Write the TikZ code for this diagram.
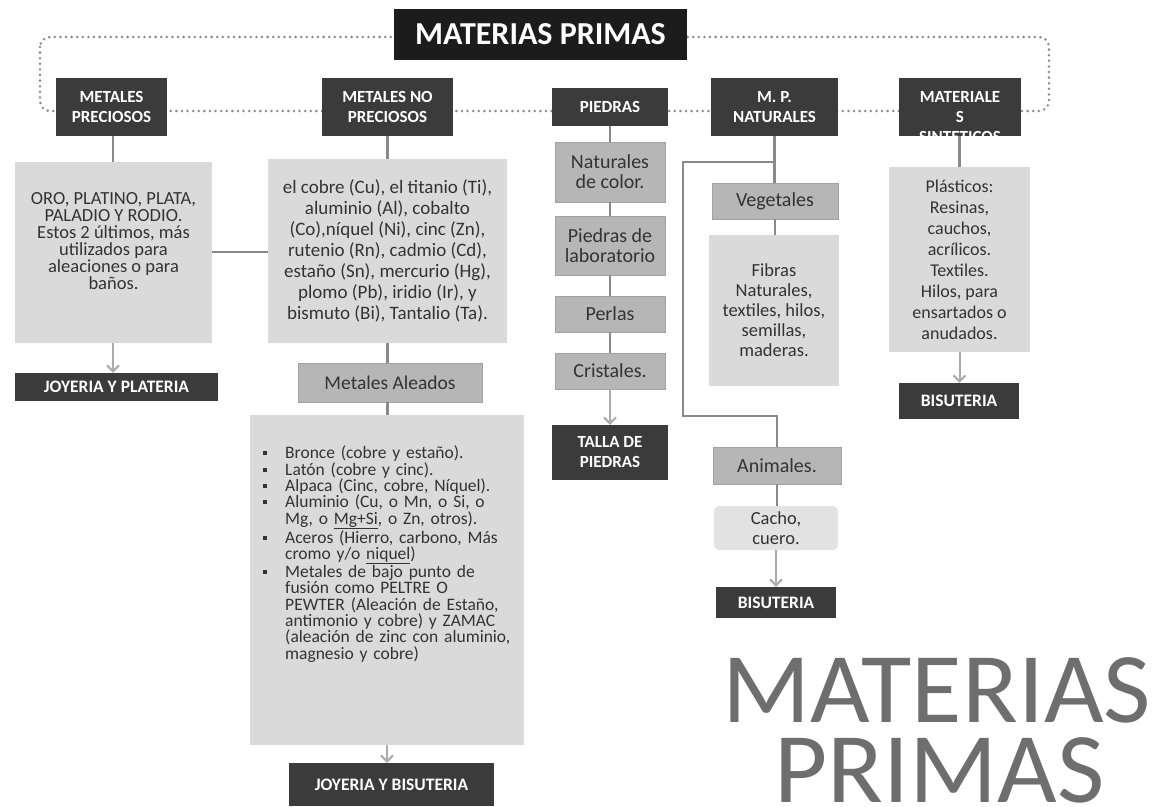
\documentclass[tikz,border=0pt]{standalone}
\usepackage{fontspec}
\setmainfont{Carlito}
\usetikzlibrary{arrows.meta}
\definecolor{dk}{HTML}{3B3B3B}
\definecolor{blk}{HTML}{1C1C1C}
\definecolor{lt}{HTML}{DADADA}
\definecolor{lt2}{HTML}{E2E2E2}
\definecolor{md}{HTML}{B6B6B6}
\definecolor{mdb}{HTML}{A2A2A2}
\definecolor{ln}{HTML}{8A8A8A}
\definecolor{ar}{HTML}{ABABAB}
\definecolor{tx}{HTML}{333333}
\definecolor{bigc}{HTML}{6E6E6E}
\newcommand\alitem{\par\noindent\hangindent=33pt\hangafter=1\makebox[33pt][l]{\hspace{11pt}\rule[3.5pt]{4pt}{4pt}}}
\tikzset{
 darkbox/.style={fill=dk, text=white, font=\bfseries\fontsize{17}{20}\selectfont, align=center, inner sep=0pt},
 endbox/.style={darkbox, font=\bfseries\fontsize{17.5}{20}\selectfont},
 ltbox/.style={fill=lt, text=tx, align=center, inner sep=0pt},
 mdbox/.style={fill=md, draw=mdb, line width=0.6pt, text=tx, align=center, inner sep=0pt, font=\fontsize{20}{20}\selectfont},
 conn/.style={draw=ln, line width=2.5pt},
 arr/.style={draw=ar, line width=2pt, -{Straight Barb[length=6pt,width=12pt,line width=2pt]}},
 dotframe/.style={draw=ln, line width=2.8pt, dash pattern=on 0pt off 5.6pt, line cap=round},
 bigtext/.style={anchor=base, text=bigc, inner sep=0pt, font=\fontsize{100}{80}\selectfont},
}
\begin{document}
\begin{tikzpicture}[x=1pt,y=-1pt]
\useasboundingbox[fill=white] (0,0) rectangle (1156,806);

% dotted frame
\coordinate (fa) at (40,37);
\coordinate (fb) at (1049,111);
\draw[dotframe, rounded corners=10pt] (fa) rectangle (fb);

% title
\node[fill=blk, text=white, font=\bfseries\fontsize{32}{36}\selectfont, minimum width=293pt, minimum height=51pt, inner sep=0pt] (title) at (540.5,34.5) {MATERIAS PRIMAS};

% category boxes
\node[darkbox, minimum width=111pt, minimum height=58pt] (mp) at (111.5,107) {METALES\\PRECIOSOS};
\node[darkbox, minimum width=131pt, minimum height=58pt] (mnp) at (387.5,107) {METALES NO\\PRECIOSOS};
\node[darkbox, minimum width=116pt, minimum height=38pt] (pie) at (610,107) {PIEDRAS};
\node[darkbox, minimum width=127pt, minimum height=58pt] (nat) at (774.5,107) {M. P.\\NATURALES};
\node[darkbox, minimum width=122pt, minimum height=58pt] (sin) at (960,107) {};
\begin{scope}
\clip (sin.north west) rectangle (sin.south east);
\node[text=white, font=\bfseries\fontsize{17}{20}\selectfont, align=center, inner sep=0pt] (sint) at (960,117) {MATERIALE\\S\\SINTETICOS};
\end{scope}

% metales preciosos column
\node[ltbox, minimum width=197pt, minimum height=181pt] (oro) at (113.5,252.5) {};
\node[text=tx, align=center, inner sep=0pt, font=\fontsize{18.5}{17}\selectfont] (orot) at (113.5,241) {ORO, PLATINO, PLATA,\\PALADIO Y RODIO.\\Estos 2 últimos, más\\utilizados para\\aleaciones o para\\baños.};
\node[endbox, minimum width=203pt, minimum height=28pt] (joyp) at (116.5,387) {JOYERIA Y PLATERIA};

% metales no preciosos column
\node[ltbox, minimum width=239pt, minimum height=184pt, font=\fontsize{19}{21}\selectfont] (mnpt) at (387.5,251) {el cobre (Cu), el titanio (Ti),\\aluminio (Al), cobalto\\(Co),níquel (Ni), cinc (Zn),\\rutenio (Rn), cadmio (Cd),\\estaño (Sn), mercurio (Hg),\\plomo (Pb), iridio (Ir), y\\bismuto (Bi), Tantalio (Ta).};
\node[mdbox, font=\fontsize{19.5}{20}\selectfont, minimum width=184pt, minimum height=39pt] (alead) at (390,382.5) {Metales Aleados};
\node[ltbox, minimum width=274pt, minimum height=330pt] (alist) at (387,580) {};
\node[anchor=north west, inner sep=0pt, text width=300pt, align=left, text=tx, font=\fontsize{17.5}{16.4}\selectfont] (alistt) at (252,442) {%
\alitem Bronce (cobre y estaño).
\alitem Latón (cobre y cinc).
\alitem Alpaca (Cinc, cobre, Níquel).
\alitem Aluminio (Cu, o Mn, o Si, o\newline Mg, o \underline{Mg+Si}, o Zn, otros).
\alitem Aceros (Hierro, carbono, Más\newline cromo y/o \underline{niquel})
\alitem Metales de bajo punto de\newline fusión como PELTRE O\newline PEWTER (Aleación de Estaño,\newline antimonio y cobre) y ZAMAC\newline (aleación de zinc con aluminio,\newline magnesio y cobre)\par};
\node[endbox, minimum width=205pt, minimum height=43pt] (joyb) at (391.5,784.5) {JOYERIA Y BISUTERIA};

% piedras column
\node[mdbox, minimum width=110pt, minimum height=60pt] (p1) at (610,172) {Naturales\\de color.};
\node[mdbox, minimum width=110pt, minimum height=59pt] (p2) at (610,245.5) {Piedras de\\laboratorio};
\node[mdbox, minimum width=110pt, minimum height=36pt] (p3) at (610,314) {Perlas};
\node[mdbox, minimum width=110pt, minimum height=36pt] (p4) at (610,371) {Cristales.};
\node[darkbox, minimum width=116pt, minimum height=55pt] (talla) at (610,452.5) {TALLA DE\\PIEDRAS};

% naturales column
\node[mdbox, minimum width=126pt, minimum height=36pt] (veg) at (775,201) {Vegetales};
\node[ltbox, minimum width=130pt, minimum height=151pt, font=\fontsize{18.5}{20}\selectfont] (fib) at (774,310.5) {Fibras\\Naturales,\\textiles, hilos,\\semillas,\\maderas.};
\node[mdbox, minimum width=128pt, minimum height=37pt] (ani) at (777,465.5) {Animales.};
\node[fill=lt2, rounded corners=5pt, text=tx, align=center, inner sep=0pt, minimum width=124pt, minimum height=44pt, font=\fontsize{18.5}{20}\selectfont] (cacho) at (776,528) {Cacho,\\cuero.};
\node[endbox, minimum width=120pt, minimum height=31pt] (bis1) at (776,602.5) {BISUTERIA};

% sinteticos column
\node[ltbox, minimum width=141pt, minimum height=185pt, font=\fontsize{18}{21}\selectfont] (pla) at (959.5,259.5) {Plásticos:\\Resinas,\\cauchos,\\acrílicos.\\Textiles.\\Hilos, para\\ensartados o\\anudados.};
\node[endbox, minimum width=120pt, minimum height=36pt] (bis2) at (959,401) {BISUTERIA};

% big caption
\node[bigtext] (big1) at (936.5,722) {\scalebox{1.03}[1]{MATERIAS}};
\node[bigtext] (big2) at (939.5,802) {\scalebox{1.03}[1]{PRIMAS}};

% connectors
\draw[conn] (mp.south -| 113,0) -- (oro.north -| 113,0);
\draw[conn] (oro.east |- 0,252) -- (mnpt.west |- 0,252);
\draw[arr] (oro.south -| 113,0) -- (joyp.north -| 113,0);
\draw[conn] (mnp.south) -- (mnpt.north);
\draw[conn] (mnpt.south) -- (mnpt.south |- alead.north);
\draw[conn] (mnpt.south |- alead.south) -- (mnpt.south |- alist.north);
\draw[arr] (alist.south) -- (alist.south |- joyb.north);
\draw[conn] (pie.south) -- (p1.north);
\draw[conn] (p1.south) -- (p2.north);
\draw[conn] (p2.south) -- (p3.north);
\draw[conn] (p3.south) -- (p4.north);
\draw[arr] (p4.south) -- (talla.north);
\coordinate (k1) at (683,162);
\coordinate (k2) at (683,416);
\draw[conn] (nat.south) -- (nat.south |- veg.north);
\draw[conn] (veg.south) -- (veg.south |- fib.north);
\draw[conn] (nat.south |- k1) -- (k1) -- (k2) -- (ani.north |- k2) -- (ani.north);
\draw[conn] (ani.south) -- (ani.south |- cacho.north);
\draw[arr] (cacho.south) -- (bis1.north);
\draw[conn] (sin.south -| pla.north) -- (pla.north);
\draw[arr] (pla.south) -- (pla.south |- bis2.north);
\end{tikzpicture}
\end{document}
